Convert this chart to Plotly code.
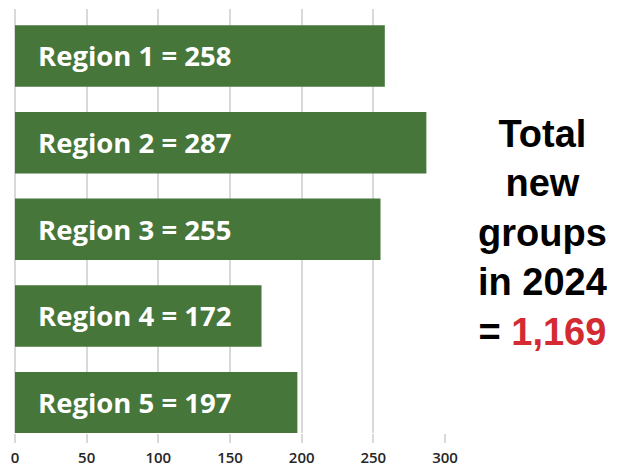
import plotly.graph_objects as go

regions = ["Region 1", "Region 2", "Region 3", "Region 4", "Region 5"]
values = [258, 287, 255, 172, 197]
x_ticks = [0, 50, 100, 150, 200, 250, 300]
total_label = "1,169"

bar_color = "#46763A"
grid_color = "#D9D9D9"

fig = go.Figure()
fig.add_trace(go.Bar(
    y=regions, x=values, orientation="h",
    marker=dict(color=bar_color, line=dict(width=0)),
    hoverinfo="skip",
))

for r, v in zip(regions, values):
    fig.add_annotation(
        x=0, y=r, xref="x", yref="y", xanchor="left", yanchor="middle",
        xshift=21, showarrow=False,
        text=f"<b>{r} = {v}</b>",
        font=dict(family="Open Sans", size=27.5, color="white"),
    )

fig.add_annotation(
    xref="paper", yref="paper", x=1.227, y=0.472,
    xanchor="center", yanchor="middle", showarrow=False, align="center",
    text=("<b>Total<br>new<br>groups<br>in 2024<br>= "
          f"<span style='color:#D42A32'>{total_label}</span></b>"),
    font=dict(family="Liberation Sans, Arial", size=38, color="black"),
)

fig.update_layout(
    width=626, height=466,
    margin=dict(l=15, r=181, t=9, b=33),
    paper_bgcolor="white", plot_bgcolor="white",
    bargap=0.29, showlegend=False,
    xaxis=dict(
        range=[0, 300], tickvals=x_ticks, showgrid=True, automargin=False,
        gridcolor=grid_color, gridwidth=1.5,
        zeroline=True, zerolinecolor=grid_color, zerolinewidth=1.5,
        ticks="outside", ticklen=9, tickcolor=grid_color, tickwidth=1.5,
        ticklabelstandoff=2,
        tickfont=dict(family="Open Sans", size=15, color="#262626", weight=600),
        showline=False,
    ),
    yaxis=dict(
        range=[4.35, -0.542], showticklabels=False, showgrid=False,
        zeroline=False, showline=False, ticks="", automargin=False,
    ),
)

fig.write_html("out.html")
